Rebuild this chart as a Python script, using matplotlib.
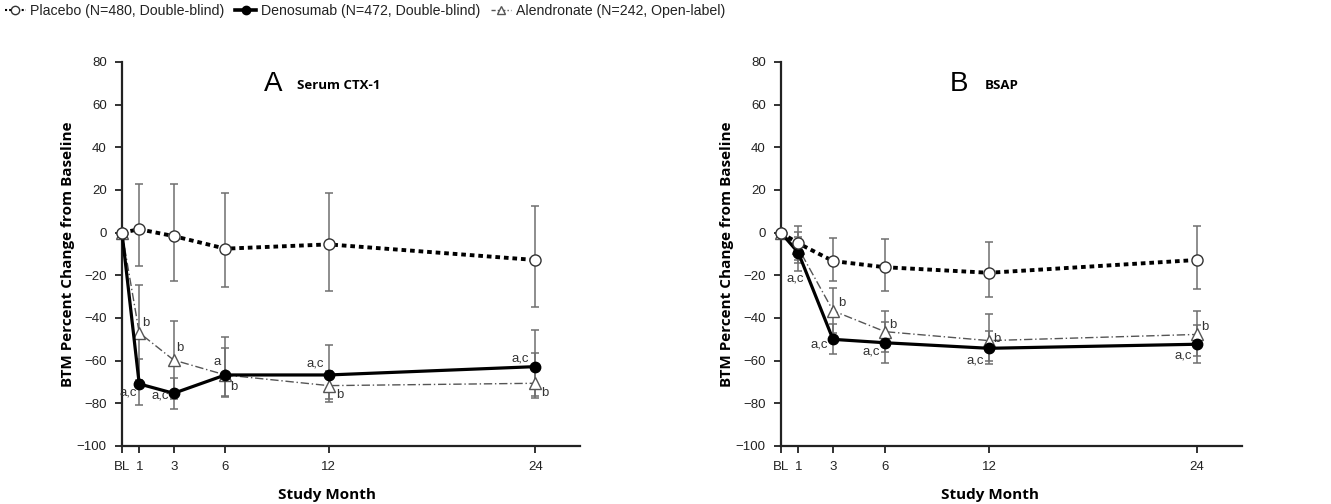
import matplotlib
matplotlib.use("Agg")
import matplotlib.pyplot as plt
from matplotlib.lines import Line2D
import numpy as np

# ---------------- data ----------------
months = [0, 1, 3, 6, 12, 24]
tick_labels = ["BL", "1", "3", "6", "12", "24"]

# Panel A: Serum CTX-1
a_placebo = [0, 1.6, -1.6, -7.5, -5.5, -12.8]
a_placebo_lo = [0, -15.6, -22.5, -25.3, -27.3, -35.0]
a_placebo_hi = [0, 22.7, 22.7, 18.4, 18.7, 12.5]
a_deno = [0, -70.9, -75.3, -66.7, -66.7, -62.8]
a_deno_lo = [0, -81.0, -82.5, -77.0, -79.5, -77.5]
a_deno_hi = [0, -59.0, -68.0, -54.0, -52.5, -45.5]
a_alen = [0, -46.9, -59.7, -66.7, -71.7, -70.6]
a_alen_lo = [0, -69.0, -78.0, -76.5, -78.0, -76.5]
a_alen_hi = [0, -24.5, -41.3, -49.0, -65.0, -56.6]

# Panel B: BSAP
b_placebo = [0, -5.0, -13.3, -16.2, -18.8, -12.8]
b_placebo_lo = [0, -13.0, -22.5, -27.3, -30.0, -26.6]
b_placebo_hi = [0, 3.1, -2.7, -3.1, -4.4, 3.1]
b_deno = [0, -9.4, -50.0, -51.6, -54.2, -52.3]
b_deno_lo = [0, -18.0, -57.0, -61.0, -61.7, -61.2]
b_deno_hi = [0, -2.0, -43.0, -42.0, -46.0, -43.5]
b_alen = [0, -7.3, -36.6, -46.4, -50.6, -47.7]
b_alen_lo = [0, -14.0, -47.0, -56.0, -60.0, -58.0]
b_alen_hi = [0, 0.5, -25.8, -36.6, -38.3, -36.6]

legend_labels = ["Placebo (N=480, Double-blind)",
                 "Denosumab (N=472, Double-blind)",
                 "Alendronate (N=242, Open-label)"]

a_deno_notes = ["", "a,c", "a,c", "a", "a,c", "a,c"]
a_alen_notes = ["", "b", "b", "b", "b", "b"]
b_deno_notes = ["", "a,c", "a,c", "a,c", "a,c", "a,c"]
b_alen_notes = ["", "", "b", "b", "b", "b"]

# ---------------- style ----------------
TICKFONT = "Liberation Sans"
LABFONT = "Open Sans"
ERR_C = "#6f6f6f"

a_deno_off = [(0, 0), (-11, -9), (-13, -2), (-8, 13), (-13, 11), (-15, 8)]
a_alen_off = [(0, 0), (7, 10), (6, 12), (8, -12), (11, -9), (10, -10)]
b_deno_off = [(0, 0), (-3, -26), (-14, -5), (-14, -9), (-14, -12), (-14, -11)]
b_alen_off = [(0, 0), (0, 0), (9, 8), (8, 7), (8, 1.5), (8, 7)]

fig = plt.figure(figsize=(13.31, 5.04), dpi=100)
W, H = 1331, 504
axA = fig.add_axes([122 / W, 1 - 446 / H, 458 / W, 384 / H])
axB = fig.add_axes([781 / W, 1 - 446 / H, 461 / W, 384 / H])


def draw(ax, pl, pl_lo, pl_hi, de, de_lo, de_hi, al, al_lo, al_hi,
         de_notes, al_notes, de_off, al_off, letter, sub, xlab_px):
    x = np.array(months, dtype=float)

    def err(v, lo, hi):
        v = np.array(v); lo = np.array(lo); hi = np.array(hi)
        return np.vstack([v - lo, hi - v])

    # error bars
    for v, lo, hi in [(pl, pl_lo, pl_hi), (de, de_lo, de_hi), (al, al_lo, al_hi)]:
        ax.errorbar(x[1:], np.array(v)[1:], yerr=err(v, lo, hi)[:, 1:], fmt="none",
                    ecolor=ERR_C, elinewidth=1.1, capsize=2.6, capthick=1.1, zorder=1)

    ax.plot(x, al, linestyle=(0, (6, 2, 1, 2)), color="#555555", lw=1.0,
            marker="^", ms=8, mfc="white", mec="#555555", mew=1.0, zorder=3,
            clip_on=False)
    ax.plot(x, de, linestyle="-", color="black", lw=2.3,
            marker="o", ms=7.5, mfc="black", mec="black", zorder=4, clip_on=False)
    ax.plot(x, pl, linestyle=(0, (1.2, 1.0)), color="black", lw=2.8,
            marker="o", ms=8, mfc="white", mec="#333333", mew=1.0, zorder=5,
            clip_on=False)

    for xi, yi, t, o in zip(x, de, de_notes, de_off):
        if t:
            ax.annotate(t, (xi, yi), xytext=o, textcoords="offset pixels",
                        ha="center", va="center", fontsize=9.5,
                        family=TICKFONT, color="#333333", zorder=6)
    for xi, yi, t, o in zip(x, al, al_notes, al_off):
        if t:
            ax.annotate(t, (xi, yi), xytext=o, textcoords="offset pixels",
                        ha="center", va="center", fontsize=9.5,
                        family=TICKFONT, color="#333333", zorder=6)

    ax.set_xlim(0, 26.6)
    ax.set_ylim(-100, 80)
    ax.set_xticks(months)
    ax.set_xticklabels(tick_labels)
    ax.set_yticks(np.arange(-100, 81, 20))
    for s in ["top", "right"]:
        ax.spines[s].set_visible(False)
    for s in ["left", "bottom"]:
        ax.spines[s].set_linewidth(1.6)
        ax.spines[s].set_color("#222222")
    ax.tick_params(direction="out", length=5, width=1.3, color="#222222",
                   labelsize=9.5, pad=6, labelcolor="#222222")
    for lab in ax.get_xticklabels() + ax.get_yticklabels():
        lab.set_family(TICKFONT)
    ax.set_ylabel("BTM Percent Change from Baseline", family=LABFONT,
                  fontweight="bold", fontsize=11, labelpad=1)
    fig.text(xlab_px / W, 1 - 495 / H, "Study Month", ha="center",
             va="center", family=LABFONT, fontweight="bold", fontsize=11)
    ax.text(letter[1], 0.943, letter[0], transform=ax.transAxes, ha="left",
            va="center", family="Liberation Sans", fontsize=20)
    ax.text(sub[1], 0.94, sub[0], transform=ax.transAxes, ha="left",
            va="center", family=LABFONT, fontweight="bold", fontsize=9.5)


draw(axA, a_placebo, a_placebo_lo, a_placebo_hi, a_deno, a_deno_lo, a_deno_hi,
     a_alen, a_alen_lo, a_alen_hi, a_deno_notes, a_alen_notes, a_deno_off,
     a_alen_off, ("A", 0.31), ("Serum CTX-1", 0.382), 327)
draw(axB, b_placebo, b_placebo_lo, b_placebo_hi, b_deno, b_deno_lo, b_deno_hi,
     b_alen, b_alen_lo, b_alen_hi, b_deno_notes, b_alen_notes, b_deno_off,
     b_alen_off, ("B", 0.367), ("BSAP", 0.4425), 990)

handles = [
    Line2D([], [], linestyle=(0, (1, 1)), color="black", lw=1.5, marker="o",
           ms=6, mfc="white", mec="#333333"),
    Line2D([], [], linestyle="-", color="black", lw=2.6, marker="o", ms=6,
           mfc="black", mec="black"),
    Line2D([], [], linestyle=(0, (3, 1.5, 1, 1.5)), color="#555555", lw=1.0,
           marker="^", ms=6, mfc="white", mec="#555555"),
]
leg = fig.legend(handles, legend_labels, loc="upper left",
                 bbox_to_anchor=(5 / W, 1 - 4 / H),
                 ncol=3, frameon=False, fontsize=10.2, handlelength=1.45,
                 handletextpad=0.35, columnspacing=0.75, borderaxespad=0.0,
                 borderpad=0.0)
for t in leg.get_texts():
    t.set_family(TICKFONT)
    t.set_color("#222222")

fig.savefig("out.png", dpi=100)
